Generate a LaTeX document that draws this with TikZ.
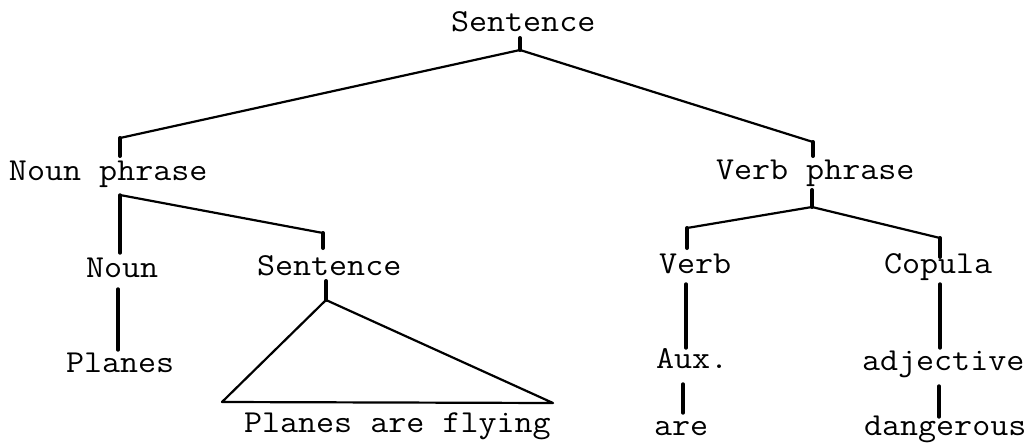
\documentclass[tikz,border=0pt]{standalone}
\usepackage{fontspec}
\usepackage{graphicx}
\newcommand\twx[1]{\scalebox{1.095}[1]{#1}}
\begin{document}
\begin{tikzpicture}[x=1pt,y=-1pt,
  lbl/.style={anchor=base west,inner sep=0pt,outer sep=0pt,font=\fontsize{32}{34}\ttfamily},
  edge/.style={line width=2.2pt,line cap=round,line join=round},
  tickline/.style={line width=4pt,line cap=round},
  stem/.style={line width=3.4pt,line cap=round}]
\useasboundingbox[fill=white] (0,0) rectangle (1033,444);
% labels
\node[lbl] (S0) at (451,32) {\twx{Sentence}};
\node[lbl] (NP) at (9,180) {\twx{Noun phrase}};
\node[lbl] (VP) at (716,179) {\twx{Verb phrase}};
\node[lbl] (N) at (86,277) {\twx{Noun}};
\node[lbl] (S1) at (257,275) {\twx{Sentence}};
\node[lbl] (V) at (659,273) {\twx{Verb}};
\node[lbl] (C) at (884,273) {\twx{Copula}};
\node[lbl] (P) at (66,372) {\twx{Planes}};
\node[lbl] (PAF) at (244,432) {\twx{Planes are flying}};
\node[lbl] (A) at (656,368) {\twx{Aux.}};
\node[lbl] (ADJ) at (862,370) {\twx{adjective}};
\node[lbl] (ARE) at (654,435) {\twx{are}};
\node[lbl] (D) at (864,435) {\twx{dangerous}};
% junctions
\coordinate (s0t) at (520,38);
\coordinate (s0j) at (520,50);
\coordinate (npj) at (120,138);
\coordinate (npt) at (120,156);
\coordinate (vpj) at (813,142);
\coordinate (vpt) at (813,156);
\coordinate (npb) at (120,195);
\coordinate (nb) at (120,253);
\coordinate (s1j) at (323,233);
\coordinate (s1t) at (323,248);
\coordinate (s1b) at (326,281);
\coordinate (s1a) at (326,300);
\coordinate (triL) at (222,402);
\coordinate (triR) at (553,403);
\coordinate (vpbt) at (812,190);
\coordinate (vpb) at (812,207);
\coordinate (vj) at (687,228);
\coordinate (vt) at (687,248);
\coordinate (cj) at (940,238);
\coordinate (ct) at (940,257);
\coordinate (nP1) at (118,289);
\coordinate (nP2) at (118,350);
\coordinate (vA1) at (686,284);
\coordinate (vA2) at (686,348);
\coordinate (aA1) at (683,384);
\coordinate (aA2) at (683,413);
\coordinate (cA1) at (940,284);
\coordinate (cA2) at (940,348);
\coordinate (dA1) at (939,386);
\coordinate (dA2) at (939,417);
% connectors
\draw[tickline] (s0t) -- (s0j);
\draw[edge] (s0j) -- (npj);
\draw[edge] (s0j) -- (vpj);
\draw[tickline] (npj) -- (npt);
\draw[tickline] (vpj) -- (vpt);
\draw[stem] (npb) -- (nb);
\draw[edge] (npb) -- (s1j);
\draw[tickline] (s1j) -- (s1t);
\draw[stem] (nP1) -- (nP2);
\draw[tickline] (s1b) -- (s1a);
\draw[edge] (s1a) -- (triL) -- (triR) -- cycle;
\draw[tickline] (vpbt) -- (vpb);
\draw[edge] (vpb) -- (vj);
\draw[tickline] (vj) -- (vt);
\draw[edge] (vpb) -- (cj);
\draw[tickline] (cj) -- (ct);
\draw[stem] (vA1) -- (vA2);
\draw[stem] (aA1) -- (aA2);
\draw[stem] (cA1) -- (cA2);
\draw[stem] (dA1) -- (dA2);
\end{tikzpicture}
\end{document}
